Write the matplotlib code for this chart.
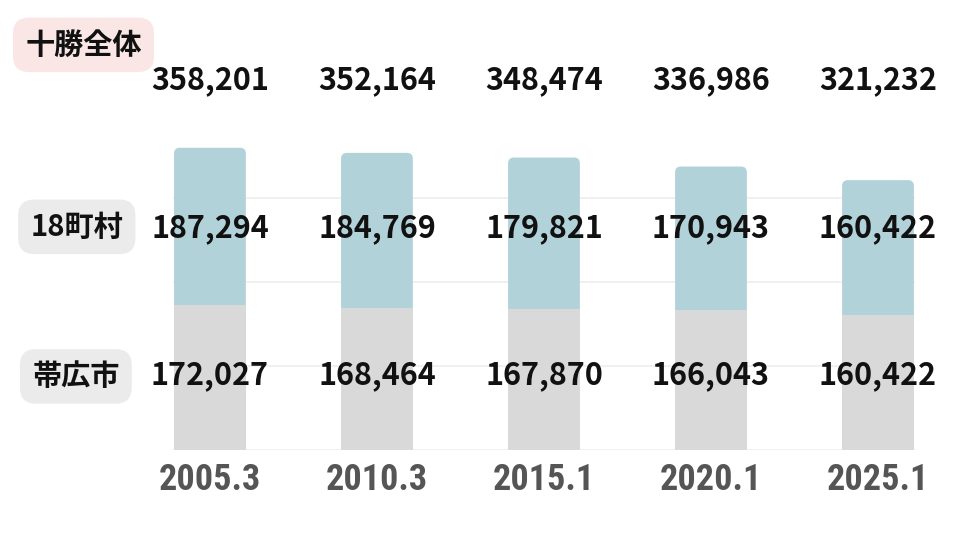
import matplotlib
matplotlib.use('Agg')
import matplotlib.pyplot as plt
from matplotlib.patches import FancyBboxPatch
from matplotlib.transforms import blended_transform_factory

plt.rcParams['font.family'] = ['Noto Sans CJK JP', 'DejaVu Sans']

# --- data ---
periods = ['2005.3', '2010.3', '2015.1', '2020.1', '2025.1']
obihiro = [172027, 168464, 167870, 166043, 160422]
towns = [187294, 184769, 179821, 170943, 160422]
totals = [358201, 352164, 348474, 336986, 321232]
row_labels = ['十勝全体', '18町村', '帯広市']

BLUE = '#b2d2d9'
GRAY = '#d9d9d9'

fig = plt.figure(figsize=(9.6, 5.4), dpi=100)
# axes spans full width, bottom sits on the bar baseline
ax = fig.add_axes([0, 90 / 540, 1, 450 / 540])
x = list(range(len(periods)))
ax.set_xlim(-1.257, 4.491)
ax.set_ylim(0, 535000)

# faint grid + baseline
for gy in [0, 100000, 200000, 300000]:
    ax.hlines(gy, -0.22, 4.22, color='#eeeeee', lw=1.2, zorder=0)

# blue part: full stacked height with rounded top, gray drawn over it
stack_top = [a + b for a, b in zip(obihiro, towns)]
blue_bars = ax.bar(x, stack_top, width=0.43, color=BLUE, zorder=2)
# y units per pixel / x units per pixel -> keeps the corners round
aspect = (535000 / 450) / (5.748 / 960)
for r in blue_bars:
    r.set_visible(False)
    ax.add_patch(FancyBboxPatch((r.get_x(), 0), r.get_width(), r.get_height(),
                                boxstyle='round,pad=0,rounding_size=0.035',
                                mutation_aspect=aspect, fc=BLUE, ec='none', zorder=2))
ax.bar(x, obihiro, width=0.43, color=GRAY, zorder=2.5)

ax.set_xticks(x)
ax.set_xticklabels(periods, fontsize=26, fontweight='bold', color='#555555',
                   family=['Roboto Condensed', 'DejaVu Sans'])
ax.tick_params(axis='x', length=0, pad=9)
ax.tick_params(axis='y', left=False, labelleft=False)
for s in ax.spines.values():
    s.set_visible(False)

# value rows, fixed heights in the figure
tr = blended_transform_factory(ax.transData, fig.transFigure)
for i in x:
    ax.text(i, 0.852, f'{totals[i]:,}', transform=tr, ha='center', va='center',
            fontsize=22, fontweight='bold', color='#111111')
    ax.text(i, 0.578, f'{towns[i]:,}', transform=tr, ha='center', va='center',
            fontsize=22, fontweight='bold', color='#111111', zorder=3)
    ax.text(i, 0.305, f'{obihiro[i]:,}', transform=tr, ha='center', va='center',
            fontsize=22, fontweight='bold', color='#111111', zorder=3)

# row labels in rounded boxes
box_colors = ['#fbe6e6', '#ebebeb', '#ebebeb']
box_pos = [(0.087, 0.917), (0.080, 0.580), (0.079, 0.303)]
for lab, bc, (bx, by) in zip(row_labels, box_colors, box_pos):
    fig.text(bx, by, lab, ha='center', va='center', fontsize=21, fontweight='bold',
             color='#111111',
             bbox=dict(boxstyle='round,pad=0.42,rounding_size=0.55', fc=bc, ec='none'))

fig.savefig('out.png', dpi=100)
